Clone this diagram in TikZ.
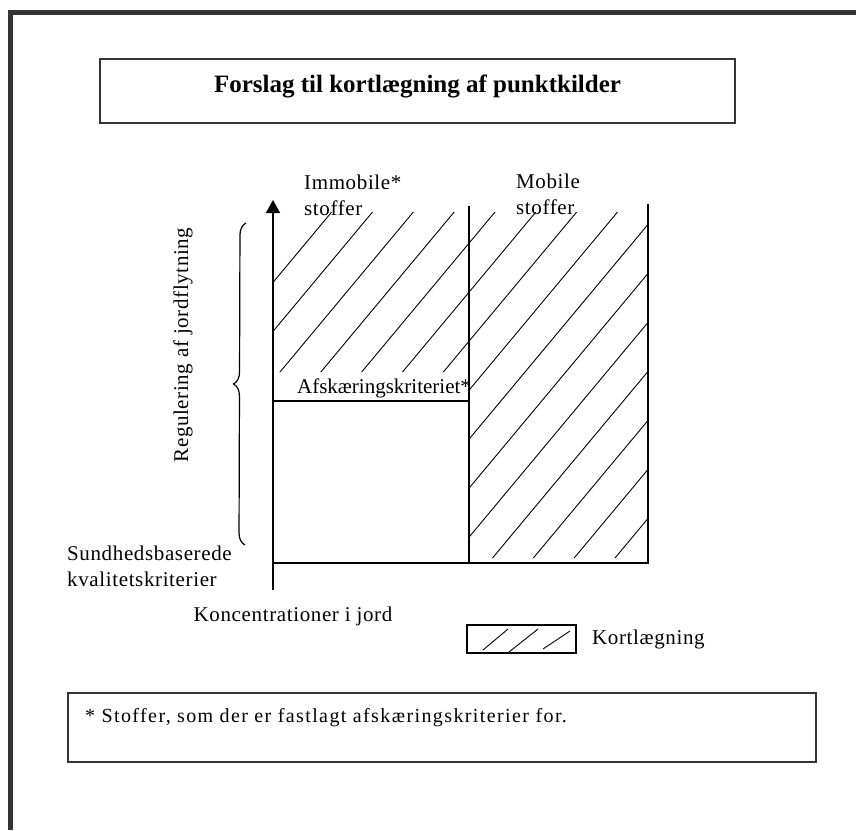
\documentclass[tikz,border=0pt]{standalone}
\usepackage{fontspec}
\setmainfont{Liberation Serif}
\usetikzlibrary{arrows.meta,positioning,decorations.pathreplacing}
\definecolor{framegray}{RGB}{52,52,56}

\begin{document}
\begin{tikzpicture}[x=1pt, y=-1pt,
    frame/.style={draw=framegray, line width=5pt},
    box/.style={draw=framegray, line width=2pt, inner sep=0pt},
    chart/.style={line width=1.8pt},
    hatch/.style={line width=0.9pt},
    arrow/.style={line width=1.8pt, -{Triangle[width=14pt,length=13pt]}},
    txt/.style={font=\fontsize{21}{26}\selectfont\addfontfeature{LetterSpace=3}, inner sep=0pt}]

        \useasboundingbox (0,0) rectangle (856,830);

        % Frame
        \draw [frame] (10.5,830) -- (10.5,12.5) -- (856,12.5);

        % Title
        \node [box, minimum width=635pt, minimum height=64pt] (Title_box) at (417.5,91) {};
        \node [font=\fontsize{25}{30}\selectfont\bfseries, inner sep=0pt] (Title) at (417.5,86) {Forslag til kortlægning af punktkilder};

        % Hatching
        \begin{scope}
            \clip (273,212) rectangle (469,372) (469,212) rectangle (648,558);
            \foreach \c in {610,659,...,1345}
                \draw [hatch] (250,{\c-300}) -- (680,{\c-816});
        \end{scope}

        % Chart
        \coordinate (Origin) at (273,563);
        \coordinate (Axis_bottom) at (273,590);
        \coordinate (Axis_top) at (273,200);
        \coordinate (Mid_top) at (469,206);
        \coordinate (Mid_bottom) at (469,563);
        \coordinate (Right_top) at (648,204);
        \coordinate (Right_bottom) at (648,563);
        \coordinate (Cut_left) at (273,401);
        \coordinate (Cut_right) at (469,401);

        \draw [arrow] (Axis_bottom) -- (Axis_top);
        \draw [chart] (Origin) -- (Right_bottom) -- (Right_top);
        \draw [chart] (Mid_bottom) -- (Mid_top);
        \draw [chart] (Cut_left) -- (Cut_right);

        % Brace
        \coordinate (Brace_bottom) at (245,545);
        \coordinate (Brace_top) at (246,223);
        \draw [decorate, decoration={brace, amplitude=12pt}, line width=1.2pt] (Brace_bottom) -- (Brace_top);

        % Labels
        \node [txt, align=left, anchor=west] (Immobile) at (304,195) {Immobile*\\stoffer};
        \node [txt, align=left, anchor=west] (Mobile) at (516,194) {Mobile\\stoffer};
        \node [txt, font=\fontsize{21}{26}\selectfont] (Cut_label) at (384,388) {Afskæringskriteriet*};
        \node [txt, rotate=90] (Regulering) at (183,345) {Regulering af jordflytning};
        \node [txt, align=left, anchor=west] (Sundhed) at (67,566) {Sundhedsbaserede\\kvalitetskriterier};
        \node [txt] (Koncentration) at (293,616) {Koncentrationer i jord};

        % Legend
        \node [box, draw=black, minimum width=109pt, minimum height=28pt] (Legend_box) at (521.5,639) {};
        \draw [hatch] (483,650) -- (508,629);
        \draw [hatch] (509,652) -- (538,629);
        \draw [hatch] (543,649) -- (570,631);
        \node [txt, right=15pt of Legend_box] (Legend_label) {Kortlægning};

        % Footnote
        \node [box, minimum width=748pt, minimum height=69pt] (Note_box) at (442,727.5) {};
        \node [txt, font=\fontsize{20}{24}\selectfont\addfontfeature{LetterSpace=7}, anchor=west] (Note) at (85,718) {* Stoffer, som der er fastlagt afskæringskriterier for.};

    \end{tikzpicture}
\end{document}
